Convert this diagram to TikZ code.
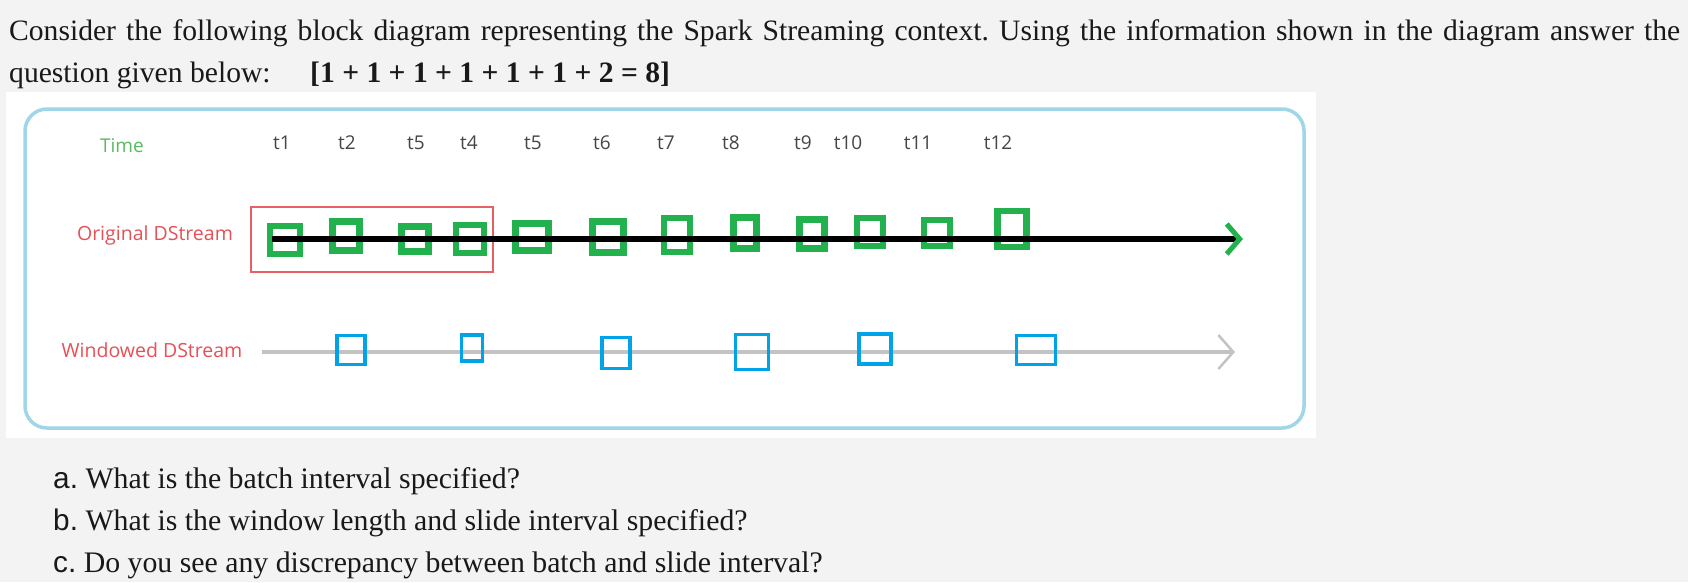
\documentclass[tikz,border=0pt]{standalone}
\usepackage{fontspec}
\setmainfont{Liberation Serif}
\newfontfamily\arialfont{Liberation Sans}
\newfontfamily\hand{Open Sans}
\usetikzlibrary{arrows.meta}
\frenchspacing
\definecolor{pagebg}{RGB}{243,243,243}
\definecolor{frameblue}{RGB}{160,214,232}
\definecolor{sqgreen}{RGB}{34,177,76}
\definecolor{sqblue}{RGB}{0,162,232}
\definecolor{winred}{RGB}{232,96,100}
\definecolor{lblred}{RGB}{230,80,86}
\definecolor{timegreen}{RGB}{90,185,100}
\definecolor{tgray}{RGB}{70,70,70}
\definecolor{linegray}{RGB}{195,195,195}
\definecolor{txt}{RGB}{25,25,25}
\tikzset{
  hdr/.style={anchor=base west, inner sep=0pt, text=txt, font=\frenchspacing\fontsize{29.6}{34}\selectfont},
  qline/.style={anchor=base west, inner sep=0pt, text=txt, font=\frenchspacing\fontsize{29.8}{34}\selectfont},
  tlabel/.style={text=tgray, inner sep=0pt, font=\hand\fontsize{19}{21}\selectfont},
  rowlabel/.style={text=lblred, inner sep=0pt, font=\hand\fontsize{19.5}{21}\selectfont},
  gsq/.style={draw=sqgreen, line width=6.5pt, inner sep=0pt},
  bsq/.style={draw=sqblue, line width=3.5pt, inner sep=0pt},
}
\begin{document}
\begin{tikzpicture}[x=1pt,y=-1pt]
\fill[pagebg] (0,0) rectangle (1688,582);
\useasboundingbox (0,0) rectangle (1688,582);
% header
\node[hdr] (l1) at (9,40) {\makebox[1671pt][s]{Consider the following block diagram representing the Spark Streaming context. Using the information shown in the diagram answer the}};
\node[hdr] (l2) at (9,82) {question given below:};
\node[hdr] (l2b) at (310,82) {\bfseries [1 + 1 + 1 + 1 + 1 + 1 + 2 = 8]};
% image area
\fill[white] (6,92) rectangle (1316,438);
\draw[frameblue, line width=3.5pt, rounded corners=22pt, fill=white] (25,109) rectangle (1304,428);
% time labels
\node[text=timegreen, inner sep=0pt, font=\hand\fontsize{19}{21}\selectfont] (time) at (122,146) {Time};
\foreach \n/\x/\t in {a/282/t1, b/347/t2, c/416/t5, d/469/t4, e/533/t5, f/602/t6, g/666/t7, h/731/t8, i/803/t9, j/848/t10, k/918/t11, l/998/t12}
  \node[tlabel] (t\n) at (\x,143) {\t};
% row labels
\node[rowlabel] (orig) at (155,235) {Original DStream};
\node[rowlabel] (wind) at (152,350) {Windowed DStream};
% window rectangle
\node[draw=winred, line width=1.5pt, minimum width=242pt, minimum height=65pt, inner sep=0pt] (win) at (372,239.5) {};
% green batches
\foreach \n/\x/\y/\w/\h in {1/285/240/30/28, 2/346/236/27/29, 3/415/239/27/25, 4/470/239/28/28, 5/532/237/33/27, 6/608/237/31/31, 7/677/235/26/34, 8/745/233/23/31, 9/812/234/25/29, 10/870/232/26/28, 11/937/233/26/26, 12/1012/229/29/36}
  \node[gsq, minimum width=\w pt, minimum height=\h pt] (g\n) at (\x,\y) {};
% original stream line
\coordinate (ostart) at (272,239);
\coordinate (oend) at (1243,239);
\draw[black, line width=6.5pt, -{Straight Barb[color=sqgreen, length=13pt, width=30pt, line width=5pt]}] (ostart) -- (oend);
% windowed stream line
\coordinate (wstart) at (262,352);
\coordinate (wend) at (1235,352);
\draw[linegray, line width=3.5pt, -{Straight Barb[length=15pt, width=34pt, line width=2.5pt]}] (wstart) -- (wend);
% blue windows
\foreach \n/\x/\y/\w/\h in {1/351/350/28/29, 2/472/348/21/26, 3/616/353/28/31, 4/752/352/33/35, 5/875/349/32/30, 6/1036/350/39/29}
  \node[bsq, minimum width=\w pt, minimum height=\h pt] (w\n) at (\x,\y) {};
% questions
\node[qline] (qa) at (53,488) {{\arialfont a.} What is the batch interval specified?};
\node[qline] (qb) at (53,530) {{\arialfont b.} What is the window length and slide interval specified?};
\node[qline] (qc) at (53,572) {{\arialfont c.} Do you see any discrepancy between batch and slide interval?};
\end{tikzpicture}
\end{document}
